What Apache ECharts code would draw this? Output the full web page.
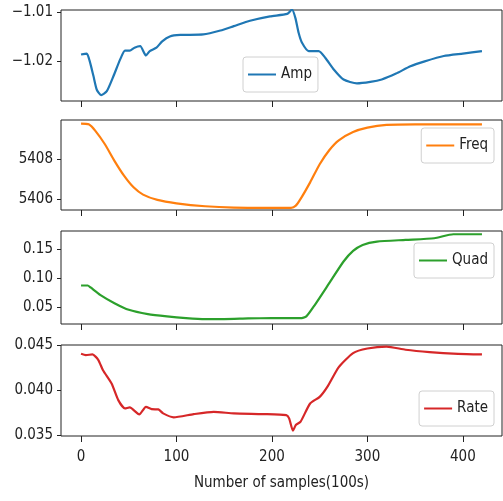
<!DOCTYPE html>
<html>
<head>
<meta charset="utf-8">
<script src="https://cdn.jsdelivr.net/npm/echarts@6/dist/echarts.min.js"></script>
<style>
  html, body { margin: 0; padding: 0; background: #fff; }
  #chart { width: 503px; height: 501px; }
</style>
</head>
<body>
<div id="chart"></div>
<script>
// sample positions (x, in 100s) and values
const ampX = [0, 6, 9, 13, 16.5, 21, 27, 34, 41, 46, 51, 56, 62, 68, 72, 79, 85, 93, 104, 128, 146, 160, 177, 198, 216, 221, 224.5, 228, 231.5, 238.5, 249, 256, 265, 275, 289, 303, 315, 330, 345, 360, 380, 400, 420];
const ampY = [-1.0187, -1.0185, -1.0200, -1.0231, -1.0259, -1.0270, -1.0262, -1.0231, -1.0197, -1.0179, -1.0179, -1.0173, -1.0170, -1.0189, -1.0180, -1.0173, -1.0160, -1.0150, -1.0147, -1.0146, -1.0138, -1.0129, -1.0118, -1.0109, -1.0104, -1.0095, -1.0112, -1.0143, -1.0163, -1.0180, -1.0180, -1.0194, -1.0218, -1.0238, -1.0246, -1.0243, -1.0238, -1.0226, -1.0211, -1.0201, -1.0190, -1.0185, -1.0180];

const freqX = [0, 8, 15, 25, 35, 45, 55, 65, 80, 100, 130, 160, 200, 220, 225, 230, 240, 250, 260, 270, 285, 300, 320, 350, 420];
const freqY = [5409.82, 5409.78, 5409.45, 5408.77, 5407.93, 5407.18, 5406.59, 5406.22, 5405.95, 5405.78, 5405.63, 5405.56, 5405.55, 5405.55, 5405.66, 5406.00, 5406.84, 5407.76, 5408.47, 5408.97, 5409.39, 5409.61, 5409.75, 5409.78, 5409.78];

const quadX = [0, 7, 10, 20, 35, 50, 70, 90, 110, 130, 150, 175, 200, 230, 236, 245, 260, 275, 285, 295, 310, 340, 370, 390, 420];
const quadY = [0.0877, 0.0877, 0.0843, 0.0717, 0.0574, 0.0460, 0.0386, 0.0346, 0.0317, 0.0300, 0.0300, 0.0311, 0.0317, 0.0317, 0.0346, 0.0546, 0.0917, 0.1289, 0.1471, 0.1574, 0.1631, 0.1660, 0.1689, 0.1757, 0.1757];

const rateX = [0, 5, 12, 18, 23, 32, 39, 46, 51, 61, 68, 74, 81, 86, 97, 118, 139, 160, 190, 215, 218, 222, 225, 230, 240, 250, 258, 270, 285, 300, 320, 340, 365, 395, 420];
const rateY = [0.04404, 0.04390, 0.04397, 0.04338, 0.04221, 0.04074, 0.03890, 0.03798, 0.03809, 0.03732, 0.03816, 0.03790, 0.03787, 0.03743, 0.03699, 0.03735, 0.03760, 0.03743, 0.03735, 0.03724, 0.03688, 0.03551, 0.03614, 0.03651, 0.03853, 0.03926, 0.04037, 0.04257, 0.04412, 0.04463, 0.04485, 0.04449, 0.04423, 0.04404, 0.04397];

const xTicks = [0, 100, 200, 300, 400];
const ampTicks = [-1.02, -1.01];
const freqTicks = [5406, 5408];
const quadTicks = [0.05, 0.10, 0.15];
const rateTicks = [0.035, 0.040, 0.045];

const names = ['Amp', 'Freq', 'Quad', 'Rate'];
const colors = ['#1f77b4', '#ff7f0e', '#2ca02c', '#d62728'];

const FONT = "'DejaVu Sans Condensed', 'DejaVu Sans', sans-serif";

const panels = [
  { x: ampX, y: ampY, ticks: ampTicks, min: -1.0282, max: -1.0096, fmt: v => v.toFixed(2).replace('-', '\u2212'),
    top: 10, height: 91, legend: { left: 243, top: 57 } },
  { x: freqX, y: freqY, ticks: freqTicks, min: 5405.44, max: 5410.0, fmt: v => v.toFixed(0),
    top: 120, height: 90, legend: { right: 9, top: 128 } },
  { x: quadX, y: quadY, ticks: quadTicks, min: 0.0216, max: 0.1813, fmt: v => v.toFixed(2),
    top: 231, height: 93, legend: { right: 9, top: 243 } },
  { x: rateX, y: rateY, ticks: rateTicks, min: 0.03492, max: 0.04502, fmt: v => v.toFixed(3),
    top: 345, height: 91, legend: { right: 9, top: 391 } }
];

const pairs = (xs, ys) => xs.map((x, i) => [x, ys[i]]);

const chart = echarts.init(document.getElementById('chart'), null, { renderer: 'canvas' });

const option = {
  animation: false,
  backgroundColor: '#fff',
  textStyle: { fontFamily: FONT },
  grid: panels.map(p => ({
    left: 61, right: 1, top: p.top, height: p.height,
    show: true, borderColor: '#222', borderWidth: 1, backgroundColor: 'transparent'
  })),
  xAxis: panels.map((p, i) => ({
    type: 'value', gridIndex: i, min: -21, max: 441,
    axisLine: { show: false, onZero: false },
    splitLine: { show: false },
    axisTick: { show: true, length: 6, lineStyle: { color: '#222' }, customValues: xTicks },
    axisLabel: {
      show: i === 3, customValues: xTicks, margin: 14,
      color: '#222', fontSize: 15, fontFamily: FONT
    },
    name: i === 3 ? 'Number of samples(100s)' : '',
    nameLocation: 'middle', nameGap: 40,
    nameTextStyle: { color: '#222', fontSize: 15, fontFamily: FONT }
  })),
  yAxis: panels.map((p, i) => ({
    type: 'value', gridIndex: i, min: p.min, max: p.max,
    axisLine: { show: false, onZero: false },
    splitLine: { show: false },
    axisTick: { show: true, length: 4, lineStyle: { color: '#222' }, customValues: p.ticks },
    axisLabel: {
      customValues: p.ticks, margin: 8, formatter: p.fmt,
      color: '#222', fontSize: 15, fontFamily: FONT,
      showMinLabel: true, showMaxLabel: true
    }
  })),
  legend: panels.map((p, i) => Object.assign({
    data: [names[i]], orient: 'vertical',
    icon: 'rect', itemWidth: 28, itemHeight: 2, itemGap: 0,
    padding: [10, 6, 10, 5],
    backgroundColor: 'rgba(255,255,255,0.8)',
    borderColor: '#d0d0d0', borderWidth: 1, borderRadius: 3,
    textStyle: { color: '#222', fontSize: 15, fontFamily: FONT },
    selectedMode: false
  }, p.legend)),
  series: panels.map((p, i) => ({
    name: names[i], type: 'line', xAxisIndex: i, yAxisIndex: i,
    data: pairs(p.x, p.y),
    showSymbol: false, symbol: 'none', smooth: 0.2,
    lineStyle: { color: colors[i], width: 2.2 },
    itemStyle: { color: colors[i] }
  }))
};

chart.setOption(option);
</script>
</body>
</html>
